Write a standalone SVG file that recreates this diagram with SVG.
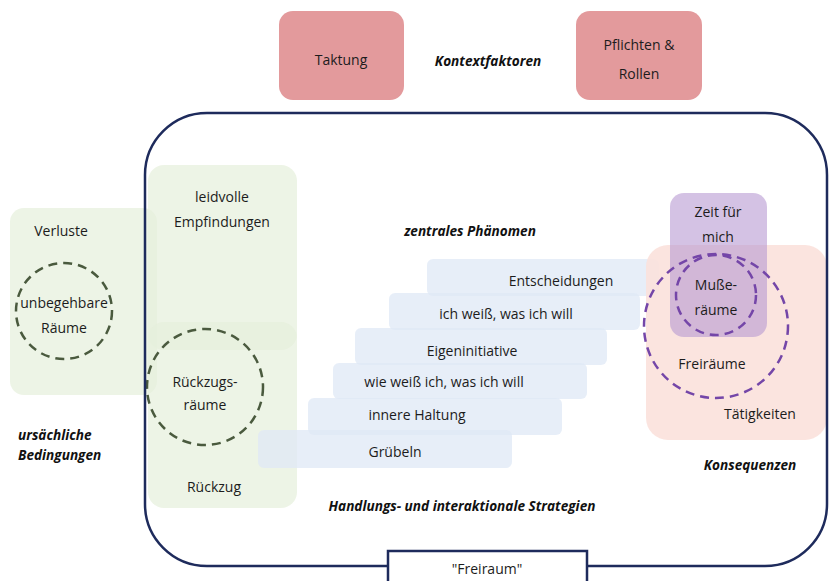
<svg xmlns="http://www.w3.org/2000/svg" width="830" height="581" viewBox="0 0 830 581">
<style>
text{font-family:"Open Sans","Liberation Sans",sans-serif;font-size:14px;fill:#1c1c1c;text-anchor:middle;font-weight:500}
.lbl{font-weight:bold;font-style:italic;font-size:13.6px;fill:#111}
.ctx{fill:#e39a9c}
.grn{fill:#e6f0dc;opacity:0.7}
.bar{fill:#dfe8f5;opacity:0.75}
.dg{fill:none;stroke:#4a5a3e;stroke-width:2.5;stroke-dasharray:9 6}
.dp{fill:none;stroke:#7446a8;stroke-width:2.5;stroke-dasharray:9 6}
</style>
<rect width="830" height="581" fill="#fff"/>
<g id="taktung"><rect class="ctx" x="279" y="11" width="125" height="89" rx="14"/><text x="341" y="65">Taktung</text></g>
<g id="pflichten"><rect class="ctx" x="576" y="11" width="126" height="89" rx="14"/><text x="639" y="50">Pflichten &amp;</text><text x="639" y="79">Rollen</text></g>
<text class="lbl" x="488" y="66">Kontextfaktoren</text>

<g id="verluste"><rect class="grn" x="10" y="208" width="147" height="187" rx="14"/><text x="61" y="236">Verluste</text>
<circle class="dg" cx="64" cy="311" r="48"/><text x="64" y="308">unbegehbare</text><text x="64" y="333">Räume</text></g>
<text class="lbl" x="18" y="440" style="text-anchor:start">ursächliche</text>
<text class="lbl" x="18" y="460" style="text-anchor:start">Bedingungen</text>

<g id="leidvolle"><rect class="grn" x="148" y="165" width="149" height="185" rx="16"/><text x="222" y="202">leidvolle</text><text x="222" y="227">Empfindungen</text></g>
<g id="rueckzug"><rect class="grn" x="148" y="322" width="149" height="186" rx="16"/><text x="214" y="492">Rückzug</text></g>
<g id="rueckzugsraeume"><circle class="dg" cx="205" cy="387" r="58"/><text x="205" y="387">Rückzugs-</text><text x="205" y="410">räume</text></g>

<text class="lbl" x="470" y="236">zentrales Phänomen</text>
<g id="strategien">
<g id="entscheidungen"><rect class="bar" x="427" y="259" width="232" height="37" rx="6"/><text x="561" y="286">Entscheidungen</text></g>
<g id="ichweiss"><rect class="bar" x="389" y="293" width="251" height="37" rx="6"/><text x="506" y="319">ich weiß, was ich will</text></g>
<g id="eigeninitiative"><rect class="bar" x="355" y="328" width="252" height="37" rx="6"/><text x="472" y="356">Eigeninitiative</text></g>
<g id="wieweiss"><rect class="bar" x="333" y="363" width="254" height="36" rx="6"/><text x="444" y="387">wie weiß ich, was ich will</text></g>
<g id="haltung"><rect class="bar" x="308" y="398" width="254" height="37" rx="6"/><text x="417" y="420">innere Haltung</text></g>
<g id="gruebeln"><rect class="bar" x="258" y="430" width="254" height="38" rx="6"/><text x="395" y="457">Grübeln</text></g>
</g>
<text class="lbl" x="462" y="511">Handlungs- und interaktionale Strategien</text>

<g id="taetigkeiten"><rect x="646" y="245" width="181" height="195" rx="22" fill="#fbe1dc" opacity="0.9"/><text x="760" y="419">Tätigkeiten</text></g>
<g id="zeit"><rect x="670" y="193" width="97" height="144" rx="14" fill="#b79ad2" opacity="0.6"/><text x="718" y="217">Zeit für</text><text x="718" y="242">mich</text></g>
<g id="musse"><circle class="dp" cx="716" cy="295" r="40"/><text x="716" y="290">Muße-</text><text x="716" y="315">räume</text></g>
<g id="freiraeume"><circle class="dp" cx="716" cy="326" r="72"/><text x="712" y="369">Freiräume</text></g>
<text class="lbl" x="750" y="470">Konsequenzen</text>

<g id="connectors">
<rect x="145" y="113" width="682" height="453" rx="62" fill="none" stroke="#1e2b5c" stroke-width="2.5"/>
</g>
<g id="freiraum"><rect x="388" y="551" width="199" height="34" fill="#fff" stroke="#1e2b5c" stroke-width="2.5"/><text x="487" y="574">"Freiraum"</text></g>
</svg>
